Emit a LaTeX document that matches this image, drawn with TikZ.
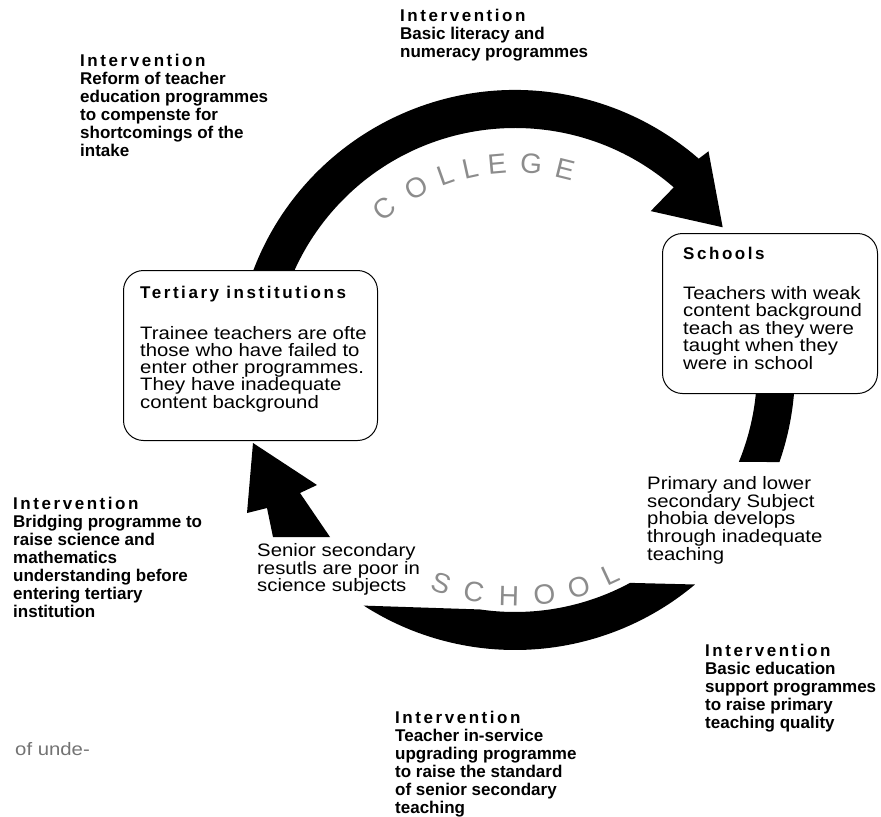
\documentclass[tikz,border=0pt]{standalone}
\usepackage{fontspec}
\setmainfont{Liberation Sans}
\newfontfamily\stretchfont[FakeStretch=1.13]{Liberation Sans}
\newfontfamily\spacedfont[LetterSpace=15]{Liberation Sans Bold}

\tikzset{
  cyclebox/.style={draw, line width=1bp, rounded corners=20bp, fill=white,
    anchor=north west, inner sep=0pt},
  boxtitle/.style={anchor=north west, inner sep=0pt,
    font=\spacedfont\fontsize{17bp}{18bp}\selectfont},
  boxtext/.style={anchor=north west, inner sep=0pt, align=left,
    font=\stretchfont\fontsize{18bp}{16.7bp}\selectfont},
  ivtext/.style={anchor=north west, inner sep=0pt, align=left,
    font=\bfseries\fontsize{17bp}{18bp}\selectfont},
  arcletter/.style={text=black!45, inner sep=0pt,
    font=\fontsize{28bp}{28bp}\selectfont}
}
\newcommand{\ivhead}{{\spacedfont Intervention}}

\begin{document}
\begin{tikzpicture}[x=1bp, y=1bp]
\useasboundingbox (0,0) rectangle (881,-817);
\coordinate (hub) at (515,-370);

% letters along the ring
\foreach \ch/\a [count=\i] in {C/129, O/118.5, L/109.5, L/102.5, E/95, G/85.5, E/76}
  \node[arcletter, rotate=\a-90] (col\i) at ([shift={(\a:207)}]hub) {\ch};
\foreach \ch/\a [count=\i] in {S/251, C/259.5, H/268.5, O/277.5, O/286.5, L/295}
  \node[arcletter, rotate=\a+90] (sch\i) at ([shift={(\a:226)}]hub) {\ch};

% the cycle
\fill ([shift={(165:280)}]hub) arc[start angle=165, end angle=49, radius=280]
  -- ([shift={(48.5:292)}]hub) -- ([shift={(34.5:252)}]hub)
  -- ([shift={(49.5:209)}]hub) -- ([shift={(49:242)}]hub)
  arc[start angle=49, end angle=165, radius=242] -- cycle;
\fill ([shift={(12:280)}]hub) arc[start angle=12, end angle=-19.2, radius=280]
  -- ([shift={(-22.3:242)}]hub) arc[start angle=-22.3, end angle=12, radius=242] -- cycle;
\fill ([shift={(-50:280)}]hub) arc[start angle=-50, end angle=-122.7, radius=280]
  -- ([shift={(-98.3:242)}]hub) arc[start angle=-98.3, end angle=-61.6, radius=242] -- cycle;
\fill (253,-443) -- (317,-485) -- (300,-493) -- (330,-537)
  -- (273,-537) -- (267,-508) -- (247,-513) -- cycle;

% boxes
\node[cyclebox, minimum width=254bp, minimum height=170bp] (tertiary) at (123,-270) {};
\node[boxtitle] (tertiarytitle) at ([shift={(17,-16)}]tertiary.north west) {Tertiary institutions};
\node[boxtext] (tertiarytext) at ([shift={(17,-56.5)}]tertiary.north west)
  {Trainee teachers are ofte\\those who have failed to\\enter other programmes.\\They  have inadequate\\content background};

\node[cyclebox, minimum width=215bp, minimum height=160bp] (schools) at (662,-233) {};
\node[boxtitle] (schoolstitle) at ([shift={(21,-14)}]schools.north west) {Schools};
\node[boxtext] (schoolstext) at ([shift={(21,-53.5)}]schools.north west)
  {Teachers with weak\\content background\\teach as they were\\taught when they\\were in school};

% texts round the cycle
\node[boxtext] (primary) at (647,-476)
  {Primary and lower\\secondary  Subject\\phobia develops\\through inadequate\\teaching};
\node[boxtext] (senior) at (257,-543)
  {Senior secondary\\resutls are poor in\\science subjects};

% interventions
\node[ivtext] (literacy) at (400,-9)
  {\ivhead\\Basic literacy and\\numeracy programmes};
\node[ivtext] (reform) at (80,-54)
  {\ivhead\\Reform of teacher\\education programmes\\to compenste for\\shortcomings of the\\intake};
\node[ivtext] (bridging) at (13,-497)
  {\ivhead\\Bridging programme to\\raise science and\\mathematics\\understanding before\\entering tertiary\\institution};
\node[ivtext] (inservice) at (395,-711)
  {\ivhead\\Teacher in-service\\upgrading programme\\to raise the standard\\of senior secondary\\teaching};
\node[ivtext] (basicedu) at (705,-644)
  {\ivhead\\Basic education\\support programmes\\to raise primary\\teaching quality};

\node[boxtext, text=black!55] (cutoff) at (15,-742) {of unde-};
\end{tikzpicture}
\end{document}
